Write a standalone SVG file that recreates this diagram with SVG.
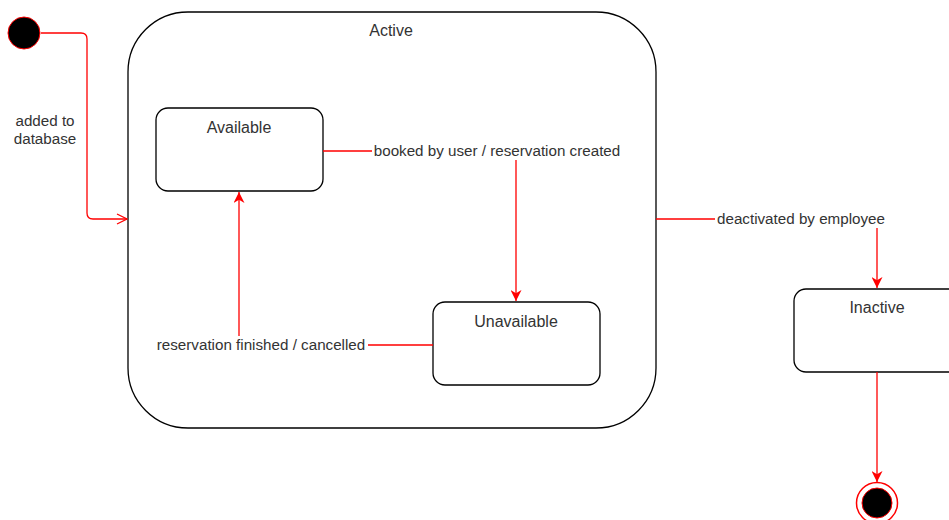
<svg xmlns="http://www.w3.org/2000/svg" width="949" height="520" viewBox="0 0 949 520">
  <style>
    .state { fill: #ffffff; stroke: #000000; stroke-width: 1.3; }
    .title { font-family: "Liberation Sans", Arial, sans-serif; font-size: 16px; fill: #333333; text-anchor: middle; }
    .label { font-family: "Liberation Sans", Arial, sans-serif; font-size: 15.2px; fill: #333333; text-anchor: middle; }
    .edge { fill: none; stroke: #ff0000; stroke-width: 1.3; }
    .bg { fill: #ffffff; }
  </style>
  <defs>
    <marker id="block" viewBox="0 0 10 10" refX="10" refY="5" markerWidth="11" markerHeight="11" markerUnits="userSpaceOnUse" orient="auto">
      <path d="M0,0 L10,5 L0,10 L3,5 Z" fill="#ff0000"/>
    </marker>
    <marker id="open" viewBox="0 0 12 12" refX="11" refY="6" markerWidth="12" markerHeight="12" markerUnits="userSpaceOnUse" orient="auto">
      <path d="M1,1 L11,6 L1,11" fill="none" stroke="#ff0000" stroke-width="1.3"/>
    </marker>
  </defs>

  <rect width="949" height="520" fill="#ffffff"/>

  <!-- composite state -->
  <g id="active">
    <rect class="state" x="128" y="12" width="528" height="416" rx="60" ry="60"/>
    <text class="title" x="391" y="36">Active</text>
  </g>

  <g id="initial">
    <circle cx="24" cy="33" r="16" fill="#000000" stroke="#ff0000" stroke-width="1"/>
  </g>

  <g id="available">
    <rect class="state" x="156" y="108" width="167" height="83" rx="12" ry="12"/>
    <text class="title" x="239" y="133">Available</text>
  </g>

  <g id="unavailable">
    <rect class="state" x="433" y="302" width="167" height="83" rx="12" ry="12"/>
    <text class="title" x="516" y="327">Unavailable</text>
  </g>

  <g id="inactive">
    <rect class="state" x="794" y="289" width="167" height="83" rx="12" ry="12"/>
    <text class="title" x="877" y="313">Inactive</text>
  </g>

  <g id="final">
    <circle cx="877" cy="503" r="20.5" fill="#ffffff" stroke="#ff0000" stroke-width="1.5"/>
    <circle cx="877" cy="503" r="15" fill="#000000" stroke="#ff0000" stroke-width="1"/>
  </g>

  <!-- transitions -->
  <g id="connectors">
    <path class="edge" d="M41,33 H81 Q87,33 87,39 V213 Q87,219 93,219 H127" marker-end="url(#open)"/>
    <rect class="bg" x="10" y="111" width="72" height="38"/>
    <text class="label" x="45" y="126">added to</text>
    <text class="label" x="45" y="144">database</text>

    <path class="edge" d="M323,151 H516 V301" marker-end="url(#block)"/>
    <rect class="bg" x="372" y="142" width="251" height="18"/>
    <text class="label" x="497" y="156">booked by user / reservation created</text>

    <path class="edge" d="M433,345 H239 V192" marker-end="url(#block)"/>
    <rect class="bg" x="155" y="336" width="213" height="18"/>
    <text class="label" x="261" y="350">reservation finished / cancelled</text>

    <path class="edge" d="M656,219 H877 V288" marker-end="url(#block)"/>
    <rect class="bg" x="715" y="210" width="172" height="18"/>
    <text class="label" x="801" y="224">deactivated by employee</text>

    <path class="edge" d="M877,372 V482" marker-end="url(#block)"/>
  </g>
</svg>
